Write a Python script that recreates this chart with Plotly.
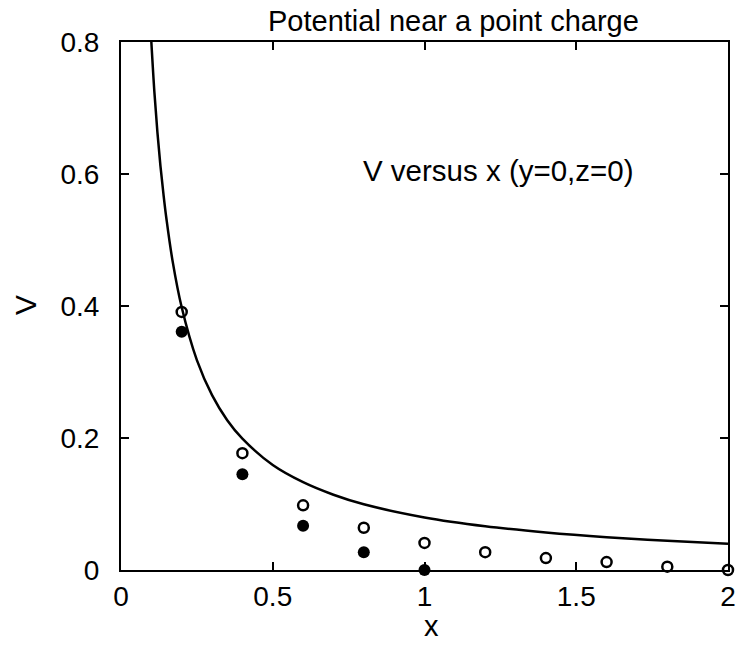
import plotly.graph_objects as go

# Curve
curve_x = [0.1, 0.11, 0.12, 0.13, 0.14, 0.15, 0.17, 0.2, 0.25, 0.3, 0.35, 0.4, 0.5, 0.6, 0.7, 0.8, 1.0, 1.2, 1.4, 1.6, 1.8, 2.0]
curve_v = [0.80, 0.724, 0.663, 0.612, 0.569, 0.531, 0.468, 0.398, 0.318, 0.265, 0.227, 0.199, 0.159, 0.133, 0.114, 0.0995, 0.0796, 0.0663, 0.0569, 0.0497, 0.0442, 0.0398]

# Open circles
open_x = [0.2, 0.4, 0.6, 0.8, 1.0, 1.2, 1.4, 1.6, 1.8, 2.0]
open_v = [0.391, 0.177, 0.098, 0.064, 0.041, 0.027, 0.018, 0.012, 0.005, 0.0]

# Filled circles
fill_x = [0.2, 0.4, 0.6, 0.8, 1.0]
fill_v = [0.361, 0.145, 0.067, 0.027, 0.0]

x_ticks = [0, 0.5, 1, 1.5, 2]
x_labels = ["0", "0.5", "1", "1.5", "2"]
y_ticks = [0, 0.2, 0.4, 0.6, 0.8]
y_labels = ["0", "0.2", "0.4", "0.6", "0.8"]

FONT = "Liberation Sans, Arial, Helvetica, sans-serif"

fig = go.Figure()
fig.add_trace(go.Scatter(x=curve_x, y=curve_v, mode="lines", line=dict(color="black", width=2.5, shape="spline"),
                         showlegend=False, cliponaxis=True))
fig.add_trace(go.Scatter(x=open_x, y=open_v, mode="markers",
                         marker=dict(symbol="circle-open", size=10, color="black", line=dict(width=2.5)),
                         showlegend=False, cliponaxis=False))
fig.add_trace(go.Scatter(x=fill_x, y=fill_v, mode="markers",
                         marker=dict(symbol="circle", size=12, color="black"),
                         showlegend=False, cliponaxis=False))

axis_common = dict(showline=True, linecolor="black", linewidth=2, mirror="ticks",
                   ticks="inside", ticklen=8, tickwidth=1.5, tickcolor="black",
                   showgrid=False, zeroline=False, automargin=False,
                   tickfont=dict(family=FONT, size=28, color="black"))

fig.update_xaxes(range=[0, 2], tickvals=x_ticks, ticktext=x_labels, ticklabelstandoff=0, **axis_common)
fig.update_yaxes(range=[0, 0.8], tickvals=y_ticks, ticktext=y_labels, ticklabelstandoff=14, **axis_common)

# Axis titles placed as annotations
fig.add_annotation(text="x", xref="paper", yref="paper", x=0.511, y=0, yanchor="bottom",
                   yshift=-74, showarrow=False, font=dict(family=FONT, size=29, color="black"))
fig.add_annotation(text="V", xref="paper", yref="paper", x=0, y=0.502, xanchor="center",
                   xshift=-95, textangle=-90, showarrow=False,
                   font=dict(family=FONT, size=30, color="black"))

fig.add_annotation(text="Potential near a point charge", xref="paper", yref="paper",
                   x=0.547, y=1.0, yanchor="bottom", yshift=3, showarrow=False,
                   font=dict(family=FONT, size=29, color="black"))
fig.add_annotation(text="V versus x (y=0,z=0)", x=1.245, y=0.606, showarrow=False,
                   font=dict(family=FONT, size=29.5, color="black"))

fig.update_layout(width=736, height=645, margin=dict(l=121, r=8, t=42, b=75),
                  plot_bgcolor="white", paper_bgcolor="white")

fig.write_html("out.html")
